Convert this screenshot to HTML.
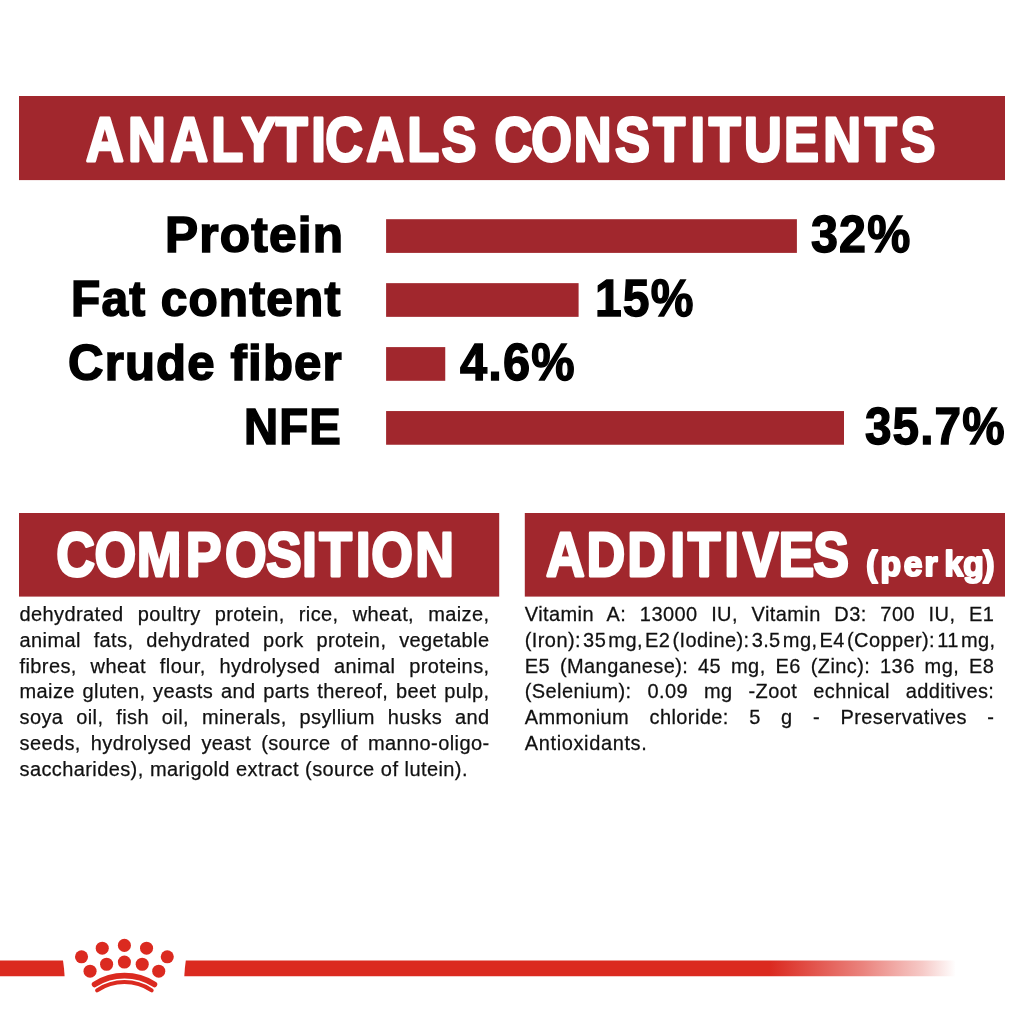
<!DOCTYPE html>
<html lang="en">
<head>
<meta charset="utf-8">
<title>Analyticals Constituents</title>
<style>
html,body{margin:0;padding:0;background:#fff;}
body{width:1024px;height:1024px;position:relative;overflow:hidden;font-family:"Liberation Sans",sans-serif;}
.abs{position:absolute;}
.ln.a{transform:scaleY(1.04);transform-origin:0 18.9px;}
.lab{letter-spacing:1.2px;position:absolute;color:#000;font-weight:bold;white-space:nowrap;transform-origin:0 0;line-height:1;-webkit-text-stroke:1.6px #000;}
.val{letter-spacing:1.2px;position:absolute;color:#000;font-weight:bold;white-space:nowrap;transform-origin:0 0;line-height:1;-webkit-text-stroke:1.4px #000;}
.ln{position:absolute;font-size:20px;line-height:24px;height:24px;color:#111;white-space:nowrap;text-align:justify;text-align-last:justify;letter-spacing:0.4px;-webkit-text-stroke:0.25px #111;}
</style>
</head>
<body>

<div class="lab" id="l1" style="left:164.76px;top:209.97px;font-size:50.60px;transform:scaleX(0.9809);">Protein</div>
<div class="lab" id="l2" style="left:71.05px;top:273.82px;font-size:50.60px;transform:scaleX(0.9467);">Fat content</div>
<div class="lab" id="l3" style="left:67.92px;top:337.67px;font-size:50.60px;transform:scaleX(0.9711);">Crude fiber</div>
<div class="lab" id="l4" style="left:244.39px;top:401.52px;font-size:50.60px;transform:scaleX(0.9332);">NFE</div>


<div class="val" id="v1" style="left:810.64px;top:207.96px;font-size:52.00px;transform:scaleX(0.9318);">32%</div>
<div class="val" id="v2" style="left:594.78px;top:271.96px;font-size:52.00px;transform:scaleX(0.9242);">15%</div>
<div class="val" id="v3" style="left:460.00px;top:335.96px;font-size:52.00px;transform:scaleX(0.9373);">4.6%</div>
<div class="val" id="v4" style="left:865.42px;top:399.96px;font-size:52.00px;transform:scaleX(0.9169);">35.7%</div>


<svg class="abs" style="left:0;top:0;" width="1024" height="620" viewBox="0 0 1024 620" font-family="Liberation Sans, sans-serif" font-weight="bold">
<g fill="#a1272d">
<rect x="19" y="96" width="986" height="84.1"/>
<rect x="386.1" y="219.2" width="410.8" height="33.7"/>
<rect x="386.1" y="283.15" width="192.5" height="33.7"/>
<rect x="386.1" y="347.1" width="59.15" height="33.7"/>
<rect x="386.1" y="411.05" width="457.9" height="33.7"/>
<rect x="19" y="513" width="480.2" height="83.6"/>
<rect x="524.8" y="513" width="480.2" height="83.6"/>
</g>
<text id="t1" transform="scale(0.8400 1)" x="102.25 152.37 202.55 251.42 287.23 328.28 370.66 387.35 435.88 484.76 525.67 567.23 588.83 632.50 683.17 732.22 777.83 822.00 843.61 885.72 933.27 980.20 1029.32 1071.95" y="161.20" font-size="62.30" fill="#fff" stroke="#fff" stroke-width="2.6" stroke-linejoin="round" vector-effect="non-scaling-stroke">ANALYTICALS CONSTITUENTS</text>
<text id="t2" transform="scale(0.8500 1)" x="66.05 111.08 160.92 218.48 264.75 312.81 355.20 375.57 418.44 436.81 488.41" y="576.20" font-size="63.10" fill="#fff" stroke="#fff" stroke-width="2.6" stroke-linejoin="round" vector-effect="non-scaling-stroke">COMPOSITION</text>
<text id="t3" transform="scale(0.8500 1)" x="642.41 690.11 737.90 788.44 809.09 851.97 873.96 916.02 956.78" y="576.20" font-size="63.10" fill="#fff" stroke="#fff" stroke-width="2.6" stroke-linejoin="round" vector-effect="non-scaling-stroke">ADDITIVES</text>
<text id="t4" transform="scale(0.9700 1)" x="893.14 907.82 931.66 953.08 966.55 973.69 993.10 1013.77" y="575.90" font-size="34.60" fill="#fff" stroke="#fff" stroke-width="2.2" stroke-linejoin="round" vector-effect="non-scaling-stroke">(per kg)</text>
</svg>
<div class="ln c" style="top:602.05px;left:19.5px;width:470.0px;">dehydrated poultry protein, rice, wheat, maize,</div>
<div class="ln c" style="top:627.80px;left:19.5px;width:470.0px;">animal fats, dehydrated pork protein, vegetable</div>
<div class="ln c" style="top:653.55px;left:19.5px;width:470.0px;">fibres, wheat flour, hydrolysed animal proteins,</div>
<div class="ln c" style="top:679.30px;left:19.5px;width:470.0px;">maize gluten, yeasts and parts thereof, beet pulp,</div>
<div class="ln c" style="top:705.05px;left:19.5px;width:470.0px;">soya oil, fish oil, minerals, psyllium husks and</div>
<div class="ln c" style="top:730.80px;left:19.5px;width:470.0px;">seeds, hydrolysed yeast (source of manno-oligo-</div>
<div class="ln c" style="top:756.55px;left:19.5px;width:470.0px;text-align-last:left;word-spacing:0.3px;">saccharides), marigold extract (source of lutein).</div>
<div class="ln a" style="top:602.05px;left:524.8px;width:469.5px;">Vitamin A: 13000 IU, Vitamin D3: 700 IU, E1</div>
<div class="ln a" style="top:627.80px;left:524.8px;width:469.5px;word-spacing:-3.78px;text-align-last:left;">(Iron): 35 mg, E2 (Iodine): 3.5 mg, E4 (Copper): 11 mg,</div>
<div class="ln a" style="top:653.55px;left:524.8px;width:469.5px;">E5 (Manganese): 45 mg, E6 (Zinc): 136 mg, E8</div>
<div class="ln a" style="top:679.30px;left:524.8px;width:469.5px;">(Selenium): 0.09 mg -Zoot echnical additives:</div>
<div class="ln a" style="top:705.05px;left:524.8px;width:469.5px;">Ammonium chloride: 5 g - Preservatives -</div>
<div class="ln a" style="top:730.80px;left:524.8px;width:469.5px;text-align-last:left;letter-spacing:0.62px;">Antioxidants.</div>

<svg class="abs" style="left:0;top:920px;" width="1024" height="100" viewBox="0 920 1024 100">
<defs><linearGradient id="fade" x1="770" y1="0" x2="956" y2="0" gradientUnits="userSpaceOnUse">
<stop offset="0" stop-color="#db2a20"/><stop offset="0.5" stop-color="#db2a20" stop-opacity="0.58"/><stop offset="0.82" stop-color="#db2a20" stop-opacity="0.25"/><stop offset="1" stop-color="#db2a20" stop-opacity="0"/></linearGradient></defs>
<path d="M0 960.5 H63 Q64.2 968 64.6 976.2 H0 Z" fill="#db2a20"/>
<path d="M185.8 960.5 H955 V976.2 H184.3 Q184.7 968 185.8 960.5 Z" fill="url(#fade)"/>
<g fill="#db2a20">
<circle cx="124.4" cy="945.4" r="6.55"/>
<circle cx="102.25" cy="948.2" r="6.55"/>
<circle cx="146.55" cy="948.2" r="6.55"/>
<circle cx="81.53" cy="956.8" r="6.55"/>
<circle cx="167.27" cy="956.8" r="6.55"/>
<circle cx="124.4" cy="962.05" r="6.55"/>
<circle cx="106.6" cy="964.25" r="6.55"/>
<circle cx="142.2" cy="964.25" r="6.55"/>
<circle cx="90.06" cy="971.2" r="6.55"/>
<circle cx="158.74" cy="971.2" r="6.55"/>
</g>
<path d="M94.6 984.4 A55.7 55.7 0 0 1 154.4 984.4" fill="none" stroke="#db2a20" stroke-width="5.7" stroke-linecap="round"/>
<path d="M97.1 990.3 A49.4 49.4 0 0 1 151.7 990.3" fill="none" stroke="#db2a20" stroke-width="4" stroke-linecap="round"/>
</svg>
</body>
</html>
